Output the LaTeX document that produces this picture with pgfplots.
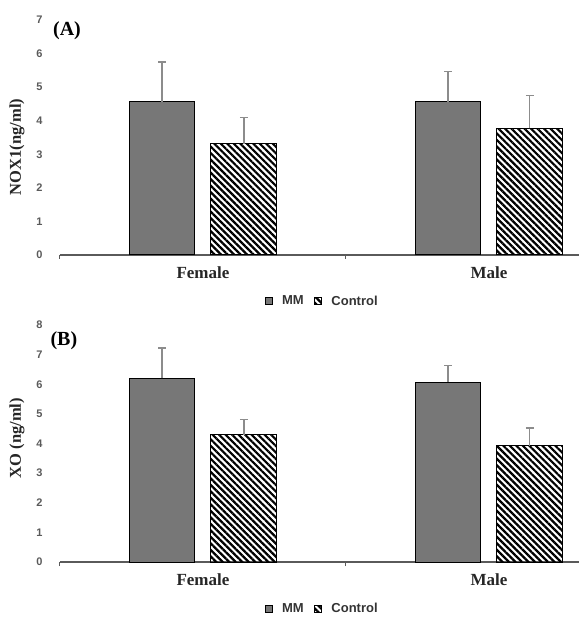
\documentclass[border=0pt]{standalone}
\usepackage{pgfplots}
\pgfplotsset{compat=1.18}
\usepackage{fontspec}
\setmainfont{Liberation Serif}
\setsansfont{Liberation Sans}
\usetikzlibrary{patterns.meta}
\definecolor{mmgray}{HTML}{777777}
\definecolor{errgray}{HTML}{8C8C8C}
\definecolor{tickgray}{HTML}{5A5A5A}
\tikzset{ctrlpat/.style={pattern={Lines[angle=-45,distance=4.6pt,line width=2.2pt]},pattern color=black}}
\pgfplotsset{
  panel/.style={
    scale only axis, width=519pt,
    xmin=-0.5, xmax=1.315, ymin=0,
    axis lines*=left,
    /pgf/number format/assume math mode=true,
    y axis line style={draw=none},
    x axis line style={draw=tickgray, line width=1.2pt},
    ytick style={draw=none},
    yticklabel style={font=\sffamily\bfseries\fontsize{11}{11}\selectfont, text=tickgray, xshift=-10pt},
    xtick={-0.5,0.5}, xticklabels={,},
    x tick style={draw=tickgray, line width=1pt},
    major tick length=4pt, tick align=outside,
    extra x ticks={0,1}, extra x tick labels={Female,Male},
    extra x tick style={major tick length=0pt, tick style={draw=none}},
    xticklabel style={font=\bfseries\fontsize{17}{17}\selectfont, text=black!85, yshift=-8pt},
    ylabel style={font=\bfseries\fontsize{16.5}{16.5}\selectfont, text=black!85, anchor=center, rotate=0},
    clip=false,
    legend columns=2,
    legend style={draw=none, fill=none, font=\sffamily\bfseries\fontsize{13}{13}\selectfont, text=black!80, column sep=8pt, anchor=center},
    legend cell align=left,
  },
  mmbar/.style={ybar, bar width=0.23, bar shift=0pt, fill=mmgray, draw=black, line width=1pt,
    error bars/.cd, y dir=plus, y explicit, error bar style={errgray, line width=1.3pt},
    error mark options={rotate=90, errgray, mark size=4pt, line width=1.3pt}},
  ctbar/.style={ybar, bar width=0.23, bar shift=0pt, ctrlpat, draw=black, line width=1pt,
    error bars/.cd, y dir=plus, y explicit, error bar style={errgray, line width=1.3pt},
    error mark options={rotate=90, errgray, mark size=4pt, line width=1.3pt}},
}
\begin{document}
\begin{tikzpicture}[x=1pt,y=1pt]
\path[use as bounding box] (0,0) rectangle (579,619);
% Panel A
\begin{axis}[panel, at={(60pt,364pt)}, anchor=south west, height=235pt, ymax=7, ytick={0,...,7},
  ylabel={NOX1(ng/ml)}, ylabel style={at={(rel axis cs:-0.083,0.46)}},
  legend style={at={(0.505,-0.196)}},
  legend image code/.code={\draw[#1, line width=0.6pt] (0pt,-3.5pt) rectangle (7pt,3.5pt);}]
\addplot[mmbar] coordinates {(-0.143,4.56) +- (0,1.19) (0.857,4.56) +- (0,0.90)};
\addlegendentry{MM}
\addplot[ctbar] coordinates {(0.143,3.32) +- (0,0.77) (1.143,3.77) +- (0,0.99)};
\addlegendentry{Control}
\node[font=\bfseries\fontsize{20}{20}\selectfont, anchor=west] at (rel axis cs:-0.02,0.955) {(A)};
\end{axis}
% Panel B
\begin{axis}[panel, at={(60pt,57pt)}, anchor=south west, height=237pt, ymax=8, ytick={0,...,8},
  ylabel={XO (ng/ml)}, ylabel style={at={(rel axis cs:-0.083,0.523)}},
  legend style={at={(0.505,-0.198)}},
  legend image code/.code={\draw[#1, line width=0.6pt] (0pt,-3.5pt) rectangle (7pt,3.5pt);}]
\addplot[mmbar] coordinates {(-0.143,6.20) +- (0,1.02) (0.857,6.07) +- (0,0.56)};
\addlegendentry{MM}
\addplot[ctbar] coordinates {(0.143,4.29) +- (0,0.51) (1.143,3.92) +- (0,0.60)};
\addlegendentry{Control}
\node[font=\bfseries\fontsize{20}{20}\selectfont, anchor=west] at (rel axis cs:-0.025,0.935) {(B)};
\end{axis}
\end{tikzpicture}
\end{document}
